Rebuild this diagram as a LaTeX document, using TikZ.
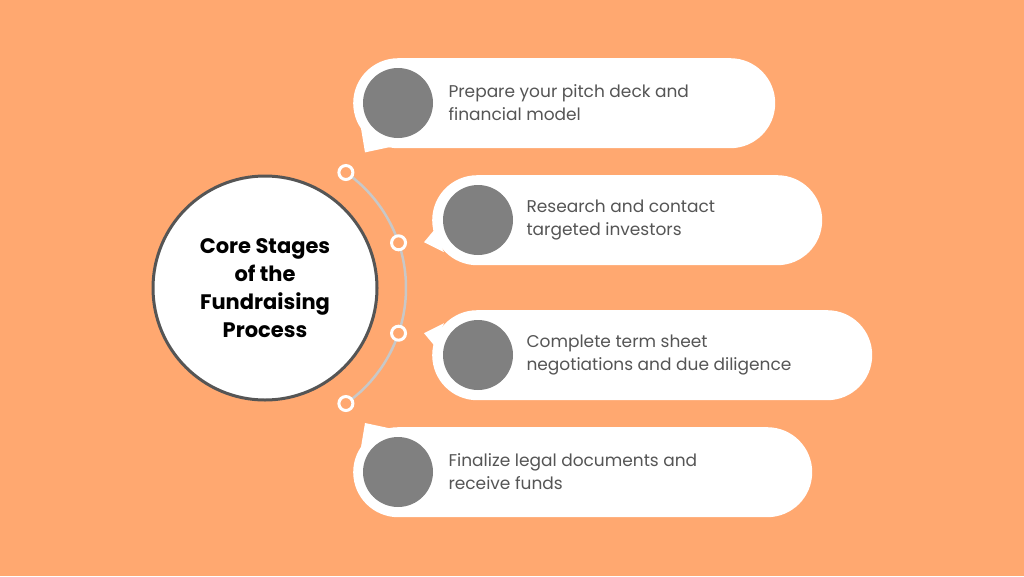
\documentclass[tikz,border=0pt]{standalone}
\usepackage{fontspec}
\setmainfont{Poppins}
\usetikzlibrary{positioning, calc}
\definecolor{bgorange}{HTML}{FFA870}
\definecolor{ringgray}{HTML}{555555}
\definecolor{dotgray}{HTML}{808080}
\definecolor{txtgray}{HTML}{555555}
\definecolor{arcgray}{HTML}{C8C8C8}

\begin{document}
\begin{tikzpicture}[
    x=1pt, y=-1pt,
    bubble/.style={fill=white, rounded corners=45pt, minimum height=90pt, anchor=north west, inner sep=0pt},
    dot/.style={circle, fill=dotgray, minimum size=70pt, inner sep=0pt},
    step_text/.style={font=\fontsize{17}{23}\selectfont, text=txtgray, align=left, anchor=west},
    marker/.style={circle, draw=white, line width=3pt, fill=bgorange, minimum size=14pt, inner sep=0pt}
]
    \fill[bgorange] (0,0) rectangle (1024,576);
    \useasboundingbox (0,0) rectangle (1024,576);

    % Speech bubbles
    \node[bubble, minimum width=422pt] (bub_a) at (353,58) {};
    \node[bubble, minimum width=390pt] (bub_b) at (432,175) {};
    \node[bubble, minimum width=440pt] (bub_c) at (432,310) {};
    \node[bubble, minimum width=459pt] (bub_d) at (353,427) {};
    \fill[white] ($(bub_a.south west)+(8,-20)$) -- ($(bub_a.south west)+(12,4)$) -- ($(bub_a.south west)+(40,-2)$) -- cycle;
    \fill[white] ($(bub_b.west)+(2,10)$) -- ($(bub_b.west)+(-8,22)$) -- ($(bub_b.west)+(12,32)$) -- cycle;
    \fill[white] ($(bub_c.west)+(2,-10)$) -- ($(bub_c.west)+(-8,-22)$) -- ($(bub_c.west)+(12,-32)$) -- cycle;
    \fill[white] ($(bub_d.north west)+(8,20)$) -- ($(bub_d.north west)+(12,-4)$) -- ($(bub_d.north west)+(40,2)$) -- cycle;

    % Gray dots and texts
    \node[dot] (dot_a) at (398,103) {};
    \node[dot] (dot_b) at (478,220) {};
    \node[dot] (dot_c) at (478,355) {};
    \node[dot] (dot_d) at (398,472) {};
    \node[step_text] at (445,103) {Prepare your pitch deck and\\financial model};
    \node[step_text] at (523,220) {Research and contact\\targeted investors};
    \node[step_text] at (523,355) {Complete term sheet\\negotiations and due diligence};
    \node[step_text] at (445,472) {Finalize legal documents and\\receive funds};

    % Core circle and arc
    \node[circle, fill=white, draw=ringgray, line width=3pt, minimum size=224pt, align=center,
          font=\fontsize{21}{28}\selectfont\bfseries] (core) at (265,288)
          {Core Stages\\of the\\Fundraising\\Process};
    \draw[arcgray, line width=2.5pt] (core.center) ++(55:141) arc[start angle=55, end angle=-55, radius=141];
    \foreach \ang/\nm in {55/m_a, 18.7/m_b, -18.7/m_c, -55/m_d}
        \node[marker] (\nm) at ($(core.center)+(\ang:141)$) {};
\end{tikzpicture}
\end{document}
